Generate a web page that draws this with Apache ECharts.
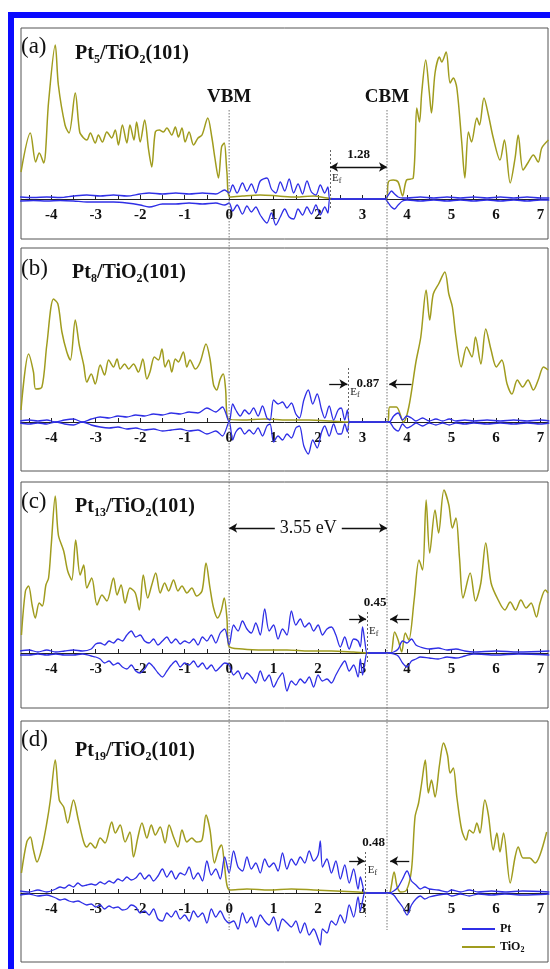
<!DOCTYPE html>
<html>
<head>
<meta charset="utf-8">
<script src="https://cdn.jsdelivr.net/npm/echarts@6/dist/echarts.min.js"></script>
<style>
  html, body { margin: 0; background: #fff; }
  #chart { width: 550px; height: 969px; }
</style>
</head>
<body>
<div id="chart"></div>
<script>
// energy axis (eV), tick values
var xMin = -4.68, xMax = 7.17;
var labelVals = [-4, -3, -2, -1, 0, 1, 2, 3, 4, 5, 6, 7];
var tickVals = [-4.5, -4, -3.5, -3, -2.5, -2, -1.5, -1, -0.5, 0, 0.5, 1, 1.5, 2, 2.5, 3, 3.5, 4, 4.5, 5, 5.5, 6, 6.5, 7];

// panel names
var clusterN = ['5', '8', '13', '19'];
var panelTag = ['(a)', '(b)', '(c)', '(d)'];

// band edges and Fermi levels
var vbm = 0, cbm = 3.55;
var efE = [2.27, 2.68, 3.10, 3.07];
var gapTxt = ['1.28', '0.87', '0.45', '0.48'];

// TiO2 DOS, panel (a)
var tiXa = [-4.68,-4.47,-4.35,-4.27,-4.17,-4.06,-3.91,-3.84,-3.69,-3.6,-3.46,-3.36,-3.27,-3.2,-3.12,-3.01,-2.94,-2.85,-2.75,-2.64,-2.56,-2.49,-2.4,-2.3,-2.23,-2.14,-2.08,-2.0,-1.9,-1.81,-1.74,-1.66,-1.57,-1.48,-1.4,-1.29,-1.21,-1.14,-1.06,-0.99,-0.9,-0.8,-0.7,-0.61,-0.48,-0.39,-0.32,-0.24,-0.17,-0.11,-0.05,0.02,0.3,0.7,1.1,1.5,1.9,2.2,2.4,3.0,3.54,3.58,3.69,3.8,3.9,3.99,4.14,4.22,4.28,4.33,4.42,4.5,4.55,4.63,4.73,4.78,4.88,4.97,5.04,5.12,5.23,5.3,5.38,5.45,5.57,5.63,5.73,5.83,5.94,6.09,6.19,6.32,6.43,6.5,6.61,6.73,6.84,6.95,7.03,7.18];
var tiYa = [27,66,37,46,36,97,154,114,74,66,106,67,61,59,66,56,64,57,67,61,69,54,74,56,74,59,77,57,79,49,32,67,69,67,71,64,72,62,71,57,67,54,61,64,81,62,41,21,52,56,27,2,3,4,3,2,3,1,0,0,0,17,19,17,3,19,21,91,77,106,139,107,86,126,142,137,147,116,121,111,57,21,67,57,81,74,101,84,61,39,59,16,41,64,29,37,44,37,51,59];

// TiO2 DOS, panel (b)
var tiXb = [-4.68,-4.51,-4.4,-4.35,-4.21,-4.1,-3.95,-3.85,-3.76,-3.65,-3.57,-3.46,-3.37,-3.27,-3.2,-3.1,-3.01,-2.9,-2.8,-2.71,-2.6,-2.52,-2.45,-2.35,-2.26,-2.15,-2.04,-1.94,-1.85,-1.78,-1.68,-1.59,-1.51,-1.44,-1.36,-1.29,-1.21,-1.14,-1.03,-0.95,-0.88,-0.76,-0.65,-0.52,-0.43,-0.35,-0.28,-0.2,-0.13,-0.08,-0.02,0.3,0.8,1.3,1.8,2.3,2.7,3.2,3.56,3.61,3.76,3.92,4.04,4.2,4.31,4.43,4.51,4.59,4.71,4.85,4.94,5.02,5.1,5.22,5.34,5.46,5.54,5.66,5.77,5.89,6.01,6.13,6.25,6.36,6.48,6.6,6.72,6.84,6.95,7.07,7.17];
var tiYb = [12,68,50,33,35,77,123,118,90,70,62,102,77,57,40,48,38,57,47,62,55,63,53,58,53,58,50,63,43,50,65,62,73,55,62,50,63,60,70,55,62,53,60,78,63,37,32,43,48,33,3,2,3,2,2,1,0,0,0,15,15,0,15,60,85,132,102,128,138,150,128,115,85,55,75,65,85,58,93,72,55,62,38,28,42,35,42,32,42,55,52];

// TiO2 DOS, panel (c)
var tiXc = [-4.67,-4.58,-4.51,-4.43,-4.36,-4.27,-4.2,-4.12,-4.06,-4.0,-3.91,-3.84,-3.72,-3.63,-3.54,-3.45,-3.35,-3.27,-3.2,-3.09,-2.97,-2.86,-2.75,-2.6,-2.52,-2.43,-2.34,-2.23,-2.11,-2.02,-1.93,-1.83,-1.74,-1.65,-1.55,-1.45,-1.36,-1.25,-1.15,-1.06,-0.95,-0.84,-0.73,-0.61,-0.52,-0.43,-0.35,-0.26,-0.18,-0.11,-0.05,-0.01,0.3,0.8,1.3,1.8,2.3,2.8,3.2,3.57,3.64,3.72,3.8,3.88,3.96,4.04,4.16,4.27,4.35,4.43,4.51,4.63,4.71,4.83,4.94,5.02,5.1,5.18,5.26,5.42,5.54,5.66,5.77,5.89,6.05,6.2,6.32,6.44,6.56,6.68,6.79,6.91,6.99,7.11,7.17];
var tiYc = [18,62,67,48,35,50,47,68,75,108,157,118,102,82,73,113,78,88,65,75,48,58,52,75,58,68,50,65,60,43,78,55,68,80,60,70,62,73,62,67,60,65,57,62,90,65,45,35,42,55,35,7,4,3,3,2,2,1,0,0,0,21,13,1,20,13,53,93,83,153,100,143,120,163,148,125,135,95,55,80,52,70,110,70,53,43,51,43,53,45,50,36,50,63,60];

// TiO2 DOS, panel (d)
var tiXd = [-4.67,-4.55,-4.47,-4.4,-4.32,-4.21,-4.1,-4.02,-3.91,-3.82,-3.72,-3.63,-3.5,-3.39,-3.27,-3.2,-3.12,-3.01,-2.9,-2.79,-2.64,-2.56,-2.45,-2.34,-2.23,-2.15,-2.05,-1.96,-1.85,-1.75,-1.66,-1.55,-1.44,-1.35,-1.25,-1.15,-1.06,-0.95,-0.84,-0.73,-0.61,-0.52,-0.43,-0.33,-0.24,-0.17,-0.11,-0.05,0.02,0.4,0.9,1.4,1.9,2.4,2.9,3.3,3.57,3.62,3.71,3.78,3.86,3.99,4.1,4.18,4.26,4.33,4.41,4.48,4.55,4.63,4.73,4.82,4.91,4.97,5.04,5.12,5.23,5.33,5.4,5.49,5.57,5.64,5.75,5.83,5.94,6.02,6.09,6.17,6.32,6.43,6.5,6.61,6.76,6.88,6.99,7.14];
var tiYd = [20,51,56,43,31,45,70,93,133,93,86,70,93,73,51,46,50,45,55,50,71,60,68,51,61,36,56,70,55,68,58,66,50,68,56,46,63,51,55,51,53,78,63,30,43,48,30,8,3,4,3,4,3,2,1,0,0,1,21,6,1,3,23,76,90,110,133,100,113,96,128,150,138,120,125,96,63,53,63,60,70,60,93,78,43,60,41,60,10,36,46,35,35,30,38,61];

// Pt DOS (spin up / spin down), panel (a)
var ptXa = [-4.7,-4.4,-4.1,-3.8,-3.5,-3.2,-2.9,-2.6,-2.3,-2.0,-1.8,-1.5,-1.2,-0.9,-0.6,-0.3,-0.1,0,0.08,0.18,0.3,0.4,0.5,0.6,0.7,0.85,0.95,1.05,1.15,1.25,1.35,1.45,1.55,1.65,1.75,1.85,1.95,2.05,2.15,2.22,2.26,2.3,3.5,3.58,3.65,3.72,3.8,3.9,4.0,4.3,4.6,4.9,5.2,5.5,5.8,6.1,6.4,6.7,7.0,7.2];
var ptUpA = [2,1.5,2,1.5,3,4,3,4,3,5,6,5,6,5,6,5,9,6,14,6,16,8,15,6,18,21,10,6,17,8,20,6,15,5,18,7,4,14,6,12,0,0,0,4,8,5,2,1,1,2,1,2,1,2,1,2,1,2,1,1];
var ptDnA = [-2,-1.5,-2,-1.5,-2,-3,-3,-3,-4,-6,-8,-5,-5,-4,-5,-4,-6,-4,-12,-6,-15,-7,-13,-8,-16,-24,-14,-26,-18,-10,-18,-20,-10,-16,-8,-15,-6,-16,-8,-14,0,0,0,-4,-8,-10,-6,-2,-1,-2,-1,-2,-1,-2,-1,-2,-1,-2,-1,-1];

// Pt DOS, panel (b)
var ptXb = [-4.7,-4.5,-4.3,-4.1,-3.9,-3.7,-3.5,-3.3,-3.1,-2.9,-2.7,-2.5,-2.3,-2.1,-1.9,-1.7,-1.5,-1.3,-1.1,-0.9,-0.7,-0.5,-0.3,-0.15,0,0.08,0.15,0.25,0.35,0.45,0.55,0.65,0.75,0.85,0.92,1.0,1.1,1.2,1.3,1.4,1.5,1.58,1.68,1.78,1.88,1.98,2.08,2.15,2.25,2.35,2.45,2.52,2.6,2.66,2.7,2.75,3.55,3.6,3.7,3.8,3.9,4.0,4.1,4.2,4.35,4.5,4.65,4.8,4.95,5.1,5.3,5.5,5.8,6.1,6.4,6.7,7.0,7.2];
var ptUpB = [1,2,1,2,0,2,3,0,3,5,4,6,5,7,6,8,7,9,8,10,9,14,10,15,0,18,12,6,12,8,14,6,16,4,2,22,18,20,14,19,8,4,22,32,18,28,12,4,16,2,12,14,2,12,0,0,0,0,6,9,2,6,4,1,4,1,3,1,3,1,2,1,2,1,2,1,2,1];
var ptDnB = [-1,-2,-1,-2,0,-2,-3,0,-3,-5,-6,-5,-7,-6,-8,-7,-9,-8,-7,-9,-8,-12,-9,-14,0,-18,-10,-6,-12,-8,-12,-6,-14,-4,-2,-20,-14,-18,-12,-16,-6,-4,-24,-32,-18,-26,-10,-4,-14,-2,-12,-12,-2,-10,0,0,0,0,-6,-9,-2,-6,-4,-1,-4,-1,-3,-1,-3,-1,-2,-1,-2,-1,-2,-1,-2,-1];

// Pt DOS, panel (c)
var ptXc = [-4.7,-4.5,-4.3,-4.1,-3.9,-3.7,-3.5,-3.3,-3.1,-3.0,-2.9,-2.8,-2.7,-2.6,-2.5,-2.4,-2.3,-2.2,-2.1,-2.0,-1.9,-1.8,-1.7,-1.6,-1.5,-1.4,-1.3,-1.2,-1.1,-1.0,-0.9,-0.8,-0.7,-0.6,-0.5,-0.4,-0.3,-0.2,-0.1,0,0.1,0.2,0.3,0.4,0.5,0.6,0.7,0.8,0.9,1.0,1.1,1.2,1.3,1.4,1.5,1.6,1.7,1.8,1.9,2.0,2.1,2.2,2.3,2.4,2.5,2.6,2.7,2.8,2.9,2.95,3.0,3.05,3.1,3.15,3.55,3.6,3.7,3.8,3.9,4.0,4.1,4.2,4.3,4.5,4.7,4.9,5.1,5.3,5.5,6.0,6.5,7.2];
var ptUpC = [2,3,1,3,1,2,3,2,4,9,10,8,12,10,14,12,18,22,16,18,12,10,14,8,12,16,10,14,9,12,10,14,8,16,12,18,10,20,24,8,28,22,32,24,20,30,18,44,22,28,14,24,18,42,28,34,26,30,22,28,18,24,26,18,6,16,4,14,12,6,26,12,0,0,0,0,1,4,12,10,14,8,6,4,5,3,4,2,1,2,1,2];
var ptDnC = [-2,-2,-1,-2,-1,-2,-2,-1,-3,-4,-6,-10,-8,-12,-10,-14,-16,-12,-18,-20,-16,-10,-14,-20,-24,-18,-12,-8,-14,-10,-12,-8,-14,-10,-16,-12,-18,-14,-10,-12,-22,-18,-26,-20,-24,-30,-18,-28,-22,-34,-26,-20,-38,-28,-32,-26,-30,-24,-34,-22,-28,-26,-30,-22,-14,-8,-18,-12,-24,-6,-22,-10,0,0,0,0,-1,-3,-10,-14,-8,-6,-4,-5,-6,-4,-5,-3,-1,-2,-1,-2];

// Pt DOS, panel (d)
var ptXd = [-4.7,-4.5,-4.3,-4.1,-3.9,-3.8,-3.7,-3.6,-3.5,-3.4,-3.3,-3.2,-3.1,-3.0,-2.9,-2.8,-2.7,-2.6,-2.5,-2.4,-2.3,-2.2,-2.1,-2.0,-1.9,-1.8,-1.7,-1.6,-1.5,-1.4,-1.3,-1.2,-1.1,-1.0,-0.9,-0.8,-0.7,-0.6,-0.5,-0.4,-0.3,-0.2,-0.1,0,0.1,0.2,0.3,0.4,0.5,0.6,0.7,0.8,0.9,1.0,1.1,1.2,1.3,1.4,1.5,1.6,1.7,1.8,1.9,2.0,2.05,2.1,2.2,2.3,2.4,2.5,2.6,2.7,2.8,2.9,2.95,3.0,3.05,3.1,3.55,3.6,3.7,3.8,3.9,4.0,4.1,4.2,4.3,4.4,4.5,4.7,4.9,5.0,5.2,5.4,5.6,5.9,6.2,6.6,7.2];
var ptUpD = [2,1,3,1,4,6,5,8,6,10,7,8,9,8,11,9,12,10,14,12,16,13,15,20,14,18,12,17,24,16,22,14,20,18,26,14,20,12,32,18,24,14,36,20,42,26,22,36,24,30,20,34,26,30,22,40,24,34,28,36,30,42,32,38,52,26,34,20,32,14,28,10,24,4,16,8,0,0,0,0,2,6,14,22,12,8,4,6,4,3,1,3,1,3,1,2,1,2,1];
var ptDnD = [-2,-1,-3,-2,-5,-7,-6,-8,-9,-8,-10,-12,-11,-14,-12,-16,-13,-15,-14,-17,-16,-12,-14,-20,-18,-22,-16,-26,-28,-20,-24,-18,-26,-22,-28,-18,-24,-20,-30,-16,-24,-18,-26,-30,-28,-36,-20,-30,-24,-34,-22,-28,-32,-24,-38,-26,-30,-34,-28,-40,-30,-42,-36,-46,-52,-36,-40,-28,-32,-22,-30,-12,-24,-4,-18,-8,0,0,0,0,-2,-8,-14,-22,-12,-6,-3,-6,-4,-2,-1,-3,-1,-3,-1,-2,-1,-2,-1];

var tiX = [tiXa, tiXb, tiXc, tiXd], tiY = [tiYa, tiYb, tiYc, tiYd];
var ptX = [ptXa, ptXb, ptXc, ptXd];
var ptUp = [ptUpA, ptUpB, ptUpC, ptUpD], ptDn = [ptDnA, ptDnB, ptDnC, ptDnD];

// layout (y units are pixels of the panel, so the axis offset is yMin)
var gridTop = [28, 248, 482, 721];
var gridH = [211, 223, 226, 241];
var yMin = [-40, -49, -55, -69];
var yMax = [171, 174, 171, 172];

var tiColor = '#a09c1e';
var ptColor = '#2f2fe6';
var serif = '"Liberation Serif", "Times New Roman", serif';

var zip = function (xs, ys) { return xs.map(function (x, i) { return [x, ys[i]]; }); };

// Fermi level markers (height range in DOS units)
var efTop = [49, 54, 41, 41], efBot = [-11, -18, -10, -24];
function arrowData(i) {
  var ef = efE[i];
  var A = function (x1, y1, x2, y2, s1) {
    return [{ coord: [x1, y1], symbol: s1 ? 'arrow' : 'none' }, { coord: [x2, y2], symbol: 'arrow' }];
  };
  if (i === 0) return [A(ef, 32, cbm, 32, true)];
  if (i === 1) return [A(2.25, 38, ef - 0.02, 38), A(4.1, 38, cbm + 0.05, 38)];
  if (i === 2) return [A(vbm, 125, cbm, 125, true), A(2.7, 34, ef - 0.02, 34), A(4.05, 34, cbm + 0.07, 34)];
  return [A(2.7, 32, ef - 0.02, 32), A(4.05, 32, cbm + 0.07, 32)];
}

var chart = echarts.init(document.getElementById('chart'));
var grids = [], xAxes = [], yAxes = [], series = [];
for (var i = 0; i < 4; i++) {
  grids.push({ left: 21, right: 2, top: gridTop[i], height: gridH[i], show: true, borderColor: '#555', borderWidth: 1 });
  xAxes.push({
    type: 'value', gridIndex: i, min: xMin, max: xMax, position: 'bottom', offset: yMin[i],
    axisLine: { onZero: false, lineStyle: { color: '#222', width: 1 } },
    axisTick: { inside: true, length: 4, customValues: tickVals, lineStyle: { color: '#222' } },
    axisLabel: { customValues: labelVals, margin: 9, fontFamily: serif, fontWeight: 'bold', fontSize: 15, color: '#111' },
    splitLine: { show: false }
  });
  yAxes.push({ type: 'value', gridIndex: i, min: yMin[i], max: yMax[i], show: false, splitLine: { show: false } });
  series.push({
    type: 'line', name: 'TiO2', xAxisIndex: i, yAxisIndex: i, data: zip(tiX[i], tiY[i]),
    symbol: 'none', smooth: 0.3, lineStyle: { color: tiColor, width: 1.5 }, itemStyle: { color: tiColor }, z: 2,
    markLine: {
      silent: true, symbol: 'none', label: { show: false }, animation: false,
      lineStyle: { color: '#666', type: [2, 2], width: 1 },
      data: [[{ coord: [efE[i], efTop[i]] }, { coord: [efE[i], efBot[i]] }]]
    }
  });
  series.push({
    type: 'line', name: 'Pt', xAxisIndex: i, yAxisIndex: i, data: zip(ptX[i], ptUp[i]),
    symbol: 'none', smooth: 0.3, lineStyle: { color: ptColor, width: 1.3 }, itemStyle: { color: ptColor }, z: 3,
    markLine: {
      silent: true, symbolSize: [7, 8], label: { show: false }, animation: false,
      lineStyle: { color: '#111', type: 'solid', width: 1.3 },
      data: arrowData(i)
    }
  });
  series.push({
    type: 'line', name: 'Pt', xAxisIndex: i, yAxisIndex: i, data: zip(ptX[i], ptDn[i]),
    symbol: 'none', smooth: 0.3, lineStyle: { color: ptColor, width: 1.3 }, itemStyle: { color: ptColor }, z: 3
  });
}

chart.setOption({
  animation: false,
  backgroundColor: '#fff',
  grid: grids, xAxis: xAxes, yAxis: yAxes, series: series,
  legend: {
    data: [{ name: 'Pt', icon: 'rect' }, { name: 'TiO2', icon: 'rect' }],
    left: 462, top: 923, orient: 'vertical', padding: 0,
    itemWidth: 33, itemHeight: 2, itemGap: 6, selectedMode: false,
    formatter: function (n) { return n === 'TiO2' ? '{t|TiO}{s|2}' : '{t|Pt}'; },
    textStyle: {
      rich: {
        t: { fontFamily: serif, fontWeight: 'bold', fontSize: 12, color: '#111', lineHeight: 14 },
        s: { fontFamily: serif, fontWeight: 'bold', fontSize: 8, color: '#111', verticalAlign: 'bottom', lineHeight: 8 }
      }
    }
  }
});

// annotations placed through the axes
var px = function (i, x, y) { return chart.convertToPixel({ gridIndex: i }, [x, y]); };
var g = [];
var xV = px(0, vbm, 0)[0], xC = px(0, cbm, 0)[0];
[xV, xC].forEach(function (x) {
  g.push({ type: 'line', z: 5, shape: { x1: x, y1: 110, x2: x, y2: 930 }, style: { stroke: '#777', lineWidth: 1, lineDash: [1.5, 1.5] } });
});
g.push({ type: 'text', z: 6, x: xV, y: 97, style: { text: 'VBM', fontFamily: serif, fontWeight: 'bold', fontSize: 19, fill: '#111', align: 'center', verticalAlign: 'middle' } });
g.push({ type: 'text', z: 6, x: xC, y: 97, style: { text: 'CBM', fontFamily: serif, fontWeight: 'bold', fontSize: 19, fill: '#111', align: 'center', verticalAlign: 'middle' } });

var tagY = [47, 269, 502, 740], titleY = [54, 273, 507, 751], titleX = [75, 72, 75, 75];
var efLblY = [21, 30, 22, 23];
var gapPos = [[2.91, 44], [3.12, 38], [3.28, 50], [3.25, 50]];
for (var k = 0; k < 4; k++) {
  g.push({ type: 'text', z: 6, x: 21, y: tagY[k], style: { text: panelTag[k], fontFamily: serif, fontSize: 23, fill: '#111', align: 'left', verticalAlign: 'middle' } });
  g.push({
    type: 'text', z: 6, x: titleX[k], y: titleY[k],
    style: {
      text: '{b|Pt}{s|' + clusterN[k] + '}{b|/TiO}{s|2}{b|(101)}', align: 'left', verticalAlign: 'middle',
      rich: {
        b: { fontFamily: serif, fontWeight: 'bold', fontSize: 20, fill: '#111', lineHeight: 24 },
        s: { fontFamily: serif, fontWeight: 'bold', fontSize: 12, fill: '#111', lineHeight: 11, verticalAlign: 'bottom' }
      }
    }
  });
  var pe = px(k, efE[k], efLblY[k]);
  g.push({
    type: 'text', z: 6, x: pe[0] + 2, y: pe[1],
    style: {
      text: '{e|E}{f|f}', align: 'left', verticalAlign: 'middle',
      rich: {
        e: { fontFamily: serif, fontSize: 11, fill: '#222', lineHeight: 14 },
        f: { fontFamily: serif, fontSize: 8, fill: '#222', lineHeight: 8, verticalAlign: 'bottom' }
      }
    }
  });
  var pg = px(k, gapPos[k][0], gapPos[k][1]);
  g.push({ type: 'text', z: 6, x: pg[0], y: pg[1], style: { text: gapTxt[k], fontFamily: serif, fontWeight: 'bold', fontSize: 13, fill: '#111', align: 'center', verticalAlign: 'middle' } });
}
var pw = px(2, 1.78, 125);
g.push({ type: 'text', z: 6, x: pw[0], y: pw[1], style: { text: '3.55 eV', fontFamily: serif, fontSize: 18, fill: '#111', align: 'center', verticalAlign: 'middle', backgroundColor: '#fff', padding: [0, 5] } });

// blue frame
g.push({ type: 'rect', z: 100, shape: { x: 11, y: 15, width: 545, height: 965 }, style: { fill: 'none', stroke: '#0a0aff', lineWidth: 6 } });

chart.setOption({ graphic: g });
</script>
</body>
</html>
